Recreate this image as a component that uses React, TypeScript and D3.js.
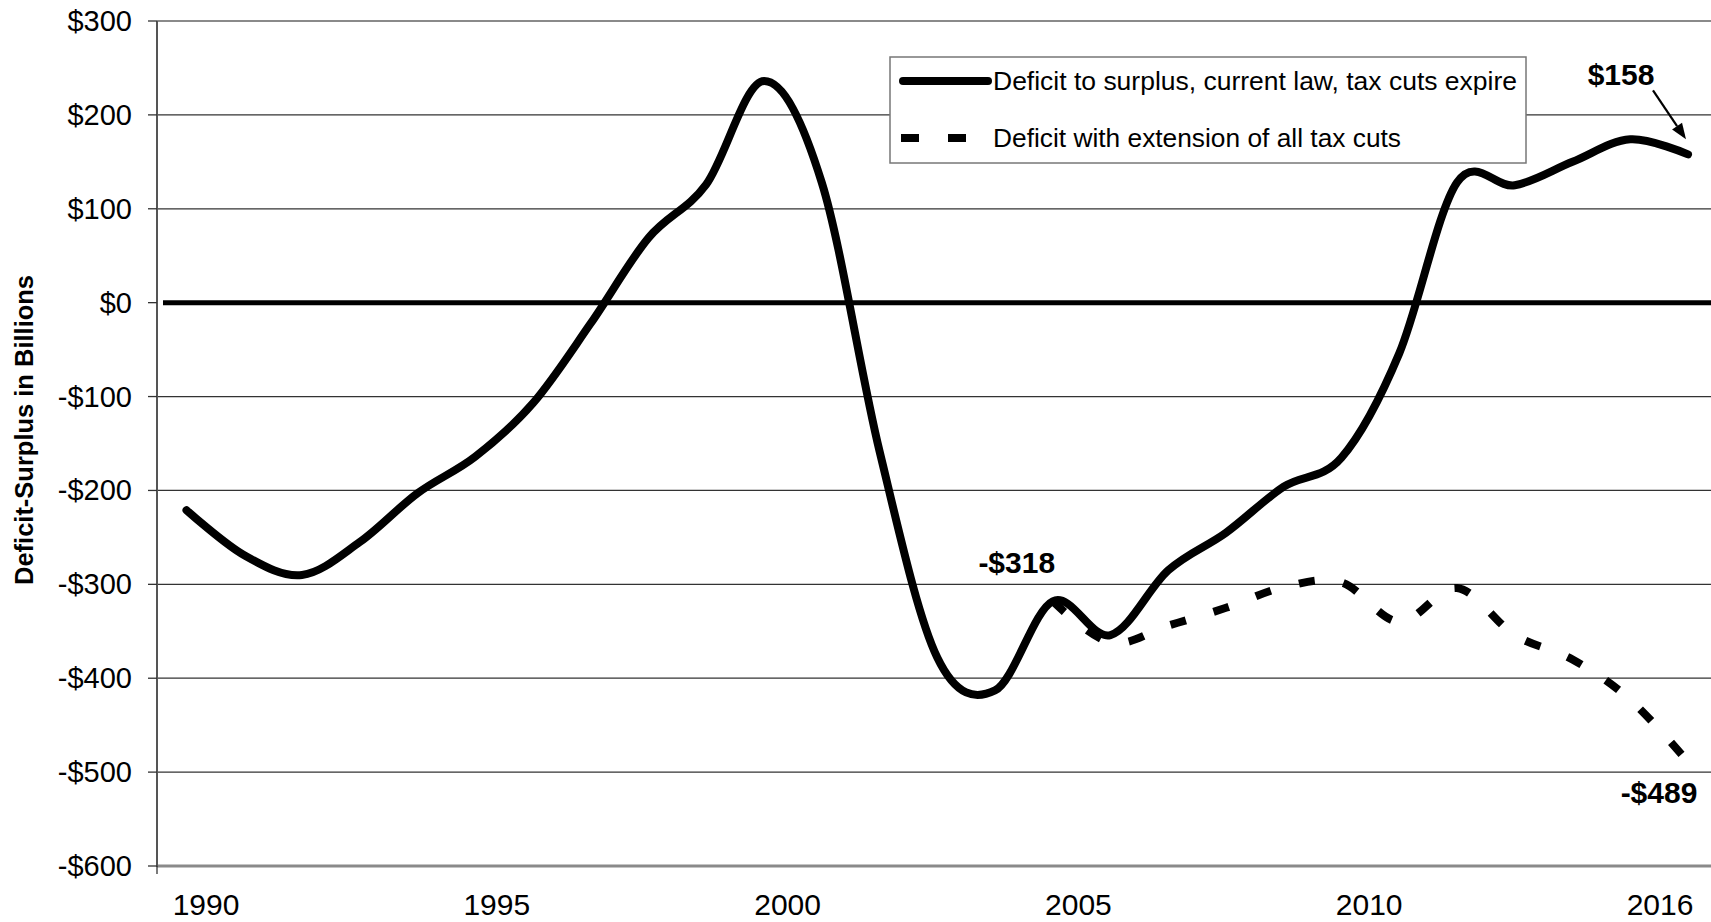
import React from 'react';
import * as d3 from 'd3';

// fiscal years and deficit(-)/surplus(+) in billions
const years = [
  1990, 1991, 1992, 1993, 1994, 1995, 1996, 1997, 1998, 1999,
  2000, 2001, 2002, 2003, 2004, 2005, 2006, 2007, 2008, 2009,
  2010, 2011, 2012, 2013, 2014, 2015, 2016,
];
const currentLaw = [
  -221, -269, -290, -255, -203, -164, -107, -22, 69, 126,
  236, 128, -158, -378, -413, -318, -354, -285, -245, -196,
  -165, -54, 128, 125, 150, 174, 158,
];

const extensionYears = [2005, 2006, 2007, 2008, 2009, 2010, 2011, 2012, 2013, 2014, 2015, 2016];
const extension = [-318, -362, -344, -325, -303, -298, -340, -304, -354, -380, -423, -489];

const yTicks = [300, 200, 100, 0, -100, -200, -300, -400, -500, -600];
const xLabels = ['1990', '1995', '2000', '2005', '2010', '2016'];

const seriesNames = [
  'Deficit to surplus, current law, tax cuts expire',
  'Deficit with extension of all tax cuts',
];

const W = 1711;
const H = 922;
const FONT = '"Liberation Sans", Arial, Helvetica, sans-serif';

const fmt = (v: number) => (v < 0 ? `-$${Math.abs(v)}` : `$${v}`);

export default function App() {
  const x = d3.scaleLinear().domain([1990, 2016]).range([186.5, 1688]);
  const y = d3.scaleLinear().domain([-600, 300]).range([866, 21]);
  const xl = d3.scalePoint<string>().domain(xLabels).range([206, 1660]);

  const axisX = 157;

  const line = d3
    .line<[number, number]>()
    .x(d => x(d[0]))
    .y(d => y(d[1]))
    .curve(d3.curveCardinal.tension(0));

  const solidPts = years.map((yr, i) => [yr, currentLaw[i]] as [number, number]);
  const dashPts = extensionYears.map((yr, i) => [yr, extension[i]] as [number, number]);

  const last = years.length - 1;
  const endX = x(years[last]);
  const endY = y(currentLaw[last]);
  const dashEndY = y(extension[extension.length - 1]);
  const x05 = x(2005);
  const y05 = y(currentLaw[years.indexOf(2005)]);

  // arrow for the $158 note
  const ax1 = endX - 35, ay1 = endY - 64;
  const ax2 = endX - 2, ay2 = endY - 15;
  const ang = Math.atan2(ay2 - ay1, ax2 - ax1);
  const head = 16, hw = 6;
  const bx = ax2 - head * Math.cos(ang), by = ay2 - head * Math.sin(ang);
  const arrowHead = `${ax2},${ay2} ${bx + hw * Math.sin(ang)},${by - hw * Math.cos(ang)} ${bx - hw * Math.sin(ang)},${by + hw * Math.cos(ang)}`;

  return (
    <svg
      width={W}
      height={H}
      style={{ position: 'absolute', left: 0, top: 0, background: '#fff' }}
      fontFamily={FONT}
    >
      {/* gridlines */}
      {yTicks.map(t => {
        if (t === 0) return null;
        const edge = t === 300 || t === -600;
        return (
          <line
            key={t}
            x1={axisX}
            x2={W}
            y1={y(t)}
            y2={y(t)}
            stroke={edge ? '#8a8a8a' : '#333'}
            strokeWidth={edge ? (t === -600 ? 3 : 2) : 1.3}
          />
        );
      })}

      {/* y axis + ticks */}
      <line x1={axisX} x2={axisX} y1={y(300)} y2={y(-600) + 1} stroke="#555" strokeWidth={2} />
      {yTicks.map(t => (
        <line key={'t' + t} x1={148} x2={axisX} y1={y(t)} y2={y(t)} stroke="#333" strokeWidth={1.3} />
      ))}
      <line x1={axisX} x2={axisX} y1={y(-600)} y2={y(-600) + 8} stroke="#333" strokeWidth={1.3} />

      {/* zero line */}
      <line x1={163} x2={W} y1={y(0)} y2={y(0)} stroke="#000" strokeWidth={5} />

      {/* y tick labels */}
      {yTicks.map(t => (
        <text
          key={'l' + t}
          x={132}
          y={y(t) + 10}
          textAnchor="end"
          fontSize={29}
          fill="#000"
        >
          {fmt(t)}
        </text>
      ))}

      {/* x labels */}
      {xLabels.map(l => (
        <text key={l} x={xl(l)} y={915} textAnchor="middle" fontSize={30} fill="#000">
          {l}
        </text>
      ))}

      {/* y title */}
      <text
        transform={`translate(33,430) rotate(-90)`}
        textAnchor="middle"
        fontSize={25}
        fontWeight="bold"
        textLength={310}
        lengthAdjust="spacingAndGlyphs"
      >
        Deficit-Surplus in Billions
      </text>

      {/* series */}
      <path
        d={line(dashPts) || ''}
        fill="none"
        stroke="#000"
        strokeWidth={8}
        strokeDasharray="16 29"
      />
      <path
        d={line(solidPts) || ''}
        fill="none"
        stroke="#000"
        strokeWidth={8}
        strokeLinecap="round"
        strokeLinejoin="round"
      />

      {/* annotations */}
      <text x={x05 - 36} y={y05 - 28} textAnchor="middle" fontSize={30} fontWeight="bold">
        {fmt(currentLaw[years.indexOf(2005)])}
      </text>
      <text x={endX - 67} y={endY - 69} textAnchor="middle" fontSize={30} fontWeight="bold">
        {fmt(currentLaw[last])}
      </text>
      <text x={endX - 29} y={dashEndY + 41} textAnchor="middle" fontSize={30} fontWeight="bold">
        {fmt(extension[extension.length - 1])}
      </text>
      <line x1={ax1} y1={ay1} x2={bx} y2={by} stroke="#000" strokeWidth={2.2} />
      <polygon points={arrowHead} fill="#000" />

      {/* legend */}
      <rect x={890} y={57} width={636} height={106} fill="#fff" stroke="#777" strokeWidth={1.5} />
      <line x1={903} x2={988} y1={81} y2={81} stroke="#000" strokeWidth={8} strokeLinecap="round" />
      <text x={993} y={90} fontSize={26} textLength={524} lengthAdjust="spacingAndGlyphs">
        {seriesNames[0]}
      </text>
      <line x1={901} x2={967} y1={138} y2={138} stroke="#000" strokeWidth={8} strokeDasharray="18 29" />
      <text x={993} y={147} fontSize={26} textLength={408} lengthAdjust="spacingAndGlyphs">
        {seriesNames[1]}
      </text>
    </svg>
  );
}
